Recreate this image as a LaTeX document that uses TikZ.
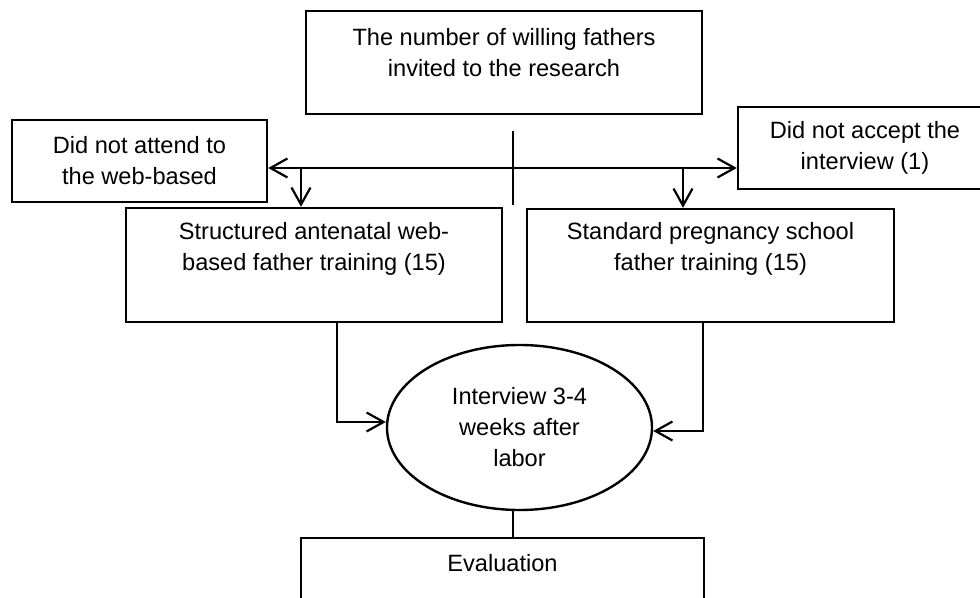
\documentclass[tikz,border=0pt]{standalone}
\usepackage{fontspec}
\setmainfont{Liberation Sans}
\usetikzlibrary{arrows.meta,shapes.geometric}

\tikzset{
  box/.style={draw, line width=1.2pt, inner sep=0pt},
  txt/.style={align=center, inner sep=0pt, font=\fontsize{11.8pt}{15.5pt}\selectfont},
  link/.style={line width=1.2pt},
}

\begin{document}
\begin{tikzpicture}[x=0.5pt, y=-0.5pt,
    >={Straight Barb[length=8.5pt,width=9.5pt,line width=1.1pt]}]
    \useasboundingbox (0,0) rectangle (980,598);

    % boxes
    \node[box, minimum width=198pt, minimum height=51.5pt] (top) at (504,62.5) {};
    \node[txt] (toptxt) at (504,53) {The number of willing fathers\\invited to the research};

    \node[box, txt, minimum width=127.5pt, minimum height=41pt] (skip) at (139.5,161)
      {Did not attend to\\the web-based};
    \node[box, txt, minimum width=127pt, minimum height=41pt] (refuse) at (865,148)
      {Did not accept the\\interview (1)};

    \node[box, minimum width=188pt, minimum height=57pt] (struct) at (314,265) {};
    \node[txt] (structtxt) at (314,248.5) {Structured antenatal web-\\based father training (15)};

    \node[box, minimum width=183.5pt, minimum height=56.5pt] (stand) at (710.5,265.5) {};
    \node[txt] (standtxt) at (710.5,248.5) {Standard pregnancy school\\father training (15)};

    \node[box, txt, ellipse, minimum width=132.5pt, minimum height=82.5pt] (interview) at (519.5,427.5)
      {Interview 3-4\\weeks after\\labor};

    \node[box, minimum width=201.5pt, minimum height=51pt] (eval) at (502.5,589) {};
    \node[txt] (evaltxt) at (502.5,563) {Evaluation};

    % split
    \coordinate (vtop) at (513,131);
    \coordinate (vbot) at (513,205);
    \coordinate (fork) at (513,168);
    \coordinate (dl) at (301,168);
    \coordinate (dr) at (683,168);

    \draw[link] (vtop) -- (vbot);
    \draw[link, <->] (skip.east |- fork) -- (refuse.west |- fork);
    \draw[link, ->] (dl) -- (dl |- struct.north);
    \draw[link, ->] (dr) -- (dr |- stand.north);

    \draw[link, ->] ([xshift=11.5pt]struct.south) |- ([yshift=2.75pt]interview.west);
    \draw[link, ->] ([xshift=-3.75pt]stand.south) |- ([yshift=-1.75pt]interview.east);
    \draw[link] (interview.south -| vtop) -- (eval.north -| vtop);
\end{tikzpicture}
\end{document}
